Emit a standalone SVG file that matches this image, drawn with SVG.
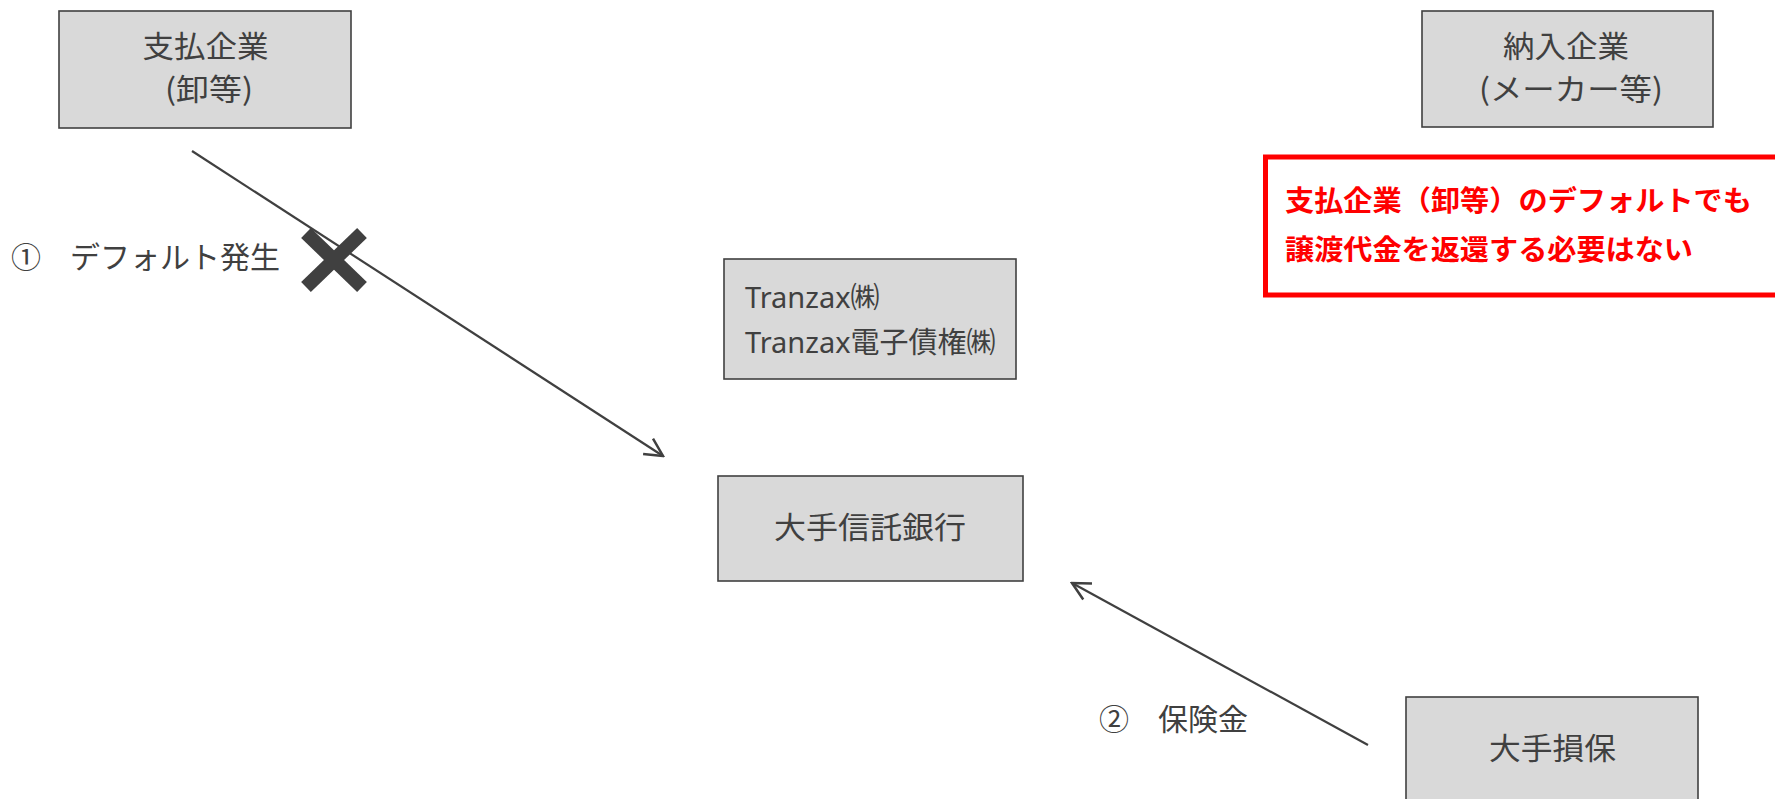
<svg xmlns="http://www.w3.org/2000/svg" width="1775" height="799" viewBox="0 0 1775 799">
  <style>
    .box { fill: #d9d9d9; stroke: #404040; stroke-width: 1.6; }
    .t { font-family: "Noto Sans CJK JP", "Noto Sans", sans-serif; font-size: 30px; fill: #404040; }
    .tl { font-family: "Noto Sans", "Noto Sans CJK JP", sans-serif; font-size: 29px; fill: #404040; }
    .c { text-anchor: middle; }
    .note { font-family: "Noto Sans CJK JP", sans-serif; font-size: 28px; font-weight: bold; fill: #ff0000; }
    .conn { stroke: #404040; stroke-width: 2.2; fill: none; }
  </style>
  <defs>
    <marker id="arrow" markerUnits="userSpaceOnUse" viewBox="0 0 22 22" refX="20" refY="11" markerWidth="22" markerHeight="22" orient="auto">
      <path d="M2.2,1.9 L20,11 L2.2,20.1" fill="none" stroke="#404040" stroke-width="2.5" stroke-linejoin="miter"/>
    </marker>
  </defs>

  <g id="node-payer">
    <rect class="box" x="59" y="11" width="292" height="117"/>
    <text class="t c" x="205.5" y="57" textLength="126" lengthAdjust="spacingAndGlyphs">支払企業</text>
    <text class="t c" x="209" y="100" textLength="88" lengthAdjust="spacingAndGlyphs">(卸等)</text>
  </g>

  <g id="node-supplier">
    <rect class="box" x="1422" y="11" width="291" height="116"/>
    <text class="t c" x="1566" y="57" textLength="126" lengthAdjust="spacingAndGlyphs">納入企業</text>
    <text class="t c" x="1571" y="100" textLength="184" lengthAdjust="spacingAndGlyphs">(メーカー等)</text>
  </g>

  <g id="note">
    <rect x="1265.5" y="157" width="520" height="138" fill="#ffffff" stroke="#ff0000" stroke-width="5"/>
    <text class="note" x="1285" y="211" textLength="467" lengthAdjust="spacingAndGlyphs">支払企業（卸等）のデフォルトでも</text>
    <text class="note" x="1285" y="260" textLength="408" lengthAdjust="spacingAndGlyphs">譲渡代金を返還する必要はない</text>
  </g>

  <g id="node-tranzax">
    <rect class="box" x="724" y="259" width="292" height="120"/>
    <text class="tl" x="745" y="308">Tranzax㈱</text>
    <text class="tl" x="745" y="353">Tranzax電子債権㈱</text>
  </g>

  <g id="node-trustbank">
    <rect class="box" x="718" y="476" width="305" height="105"/>
    <text class="t c" x="870" y="538" textLength="192" lengthAdjust="spacingAndGlyphs">大手信託銀行</text>
  </g>

  <g id="node-insurer">
    <rect class="box" x="1406" y="697" width="292" height="115"/>
    <text class="t c" x="1552.5" y="759" textLength="127" lengthAdjust="spacingAndGlyphs">大手損保</text>
  </g>

  <g id="connectors">
    <line class="conn" x1="192" y1="151" x2="663" y2="456" marker-end="url(#arrow)"/>
    <line class="conn" x1="1368" y1="745" x2="1072" y2="583" marker-end="url(#arrow)"/>
  </g>

  <g id="cross">
    <line x1="306" y1="233" x2="362" y2="287" stroke="#404040" stroke-width="14"/>
    <line x1="362" y1="233" x2="306" y2="287" stroke="#404040" stroke-width="14"/>
  </g>

  <g id="labels">
    <text class="t" y="268"><tspan x="11">①</tspan><tspan x="70">デフォルト発生</tspan></text>
    <text class="t" y="730"><tspan x="1099">②</tspan><tspan x="1158">保険金</tspan></text>
  </g>
</svg>
